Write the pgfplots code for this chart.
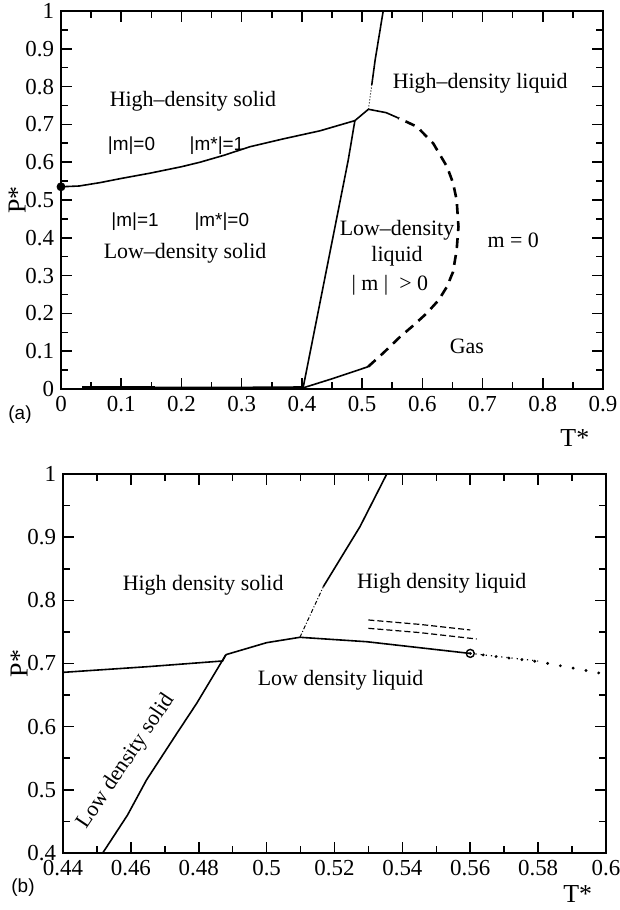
\documentclass[border=0pt]{standalone}
\usepackage{fontspec}
\setmainfont{Liberation Serif}
\newfontfamily\labfont{Liberation Sans}
\usepackage{pgfplots}
\pgfplotsset{compat=1.18}

\pgfplotsset{
  phase/.style={
    scale only axis,
    anchor=north west,
    axis line style={line width=1bp},
    tick align=inside,
    xtick pos=both, ytick pos=both,
    major tick length=5.5bp, minor tick length=3.5bp,
    every tick/.style={black, line width=0.8bp},
    minor x tick num=1, minor y tick num=1,
    tick label style={font=\rmfamily\fontsize{11.5}{12}\selectfont},
    /pgf/number format/assume math mode=true,
    xticklabel={\pgfmathprintnumber[assume math mode=true]{\tick}},
    yticklabel={\pgfmathprintnumber[assume math mode=true]{\tick}},
    label style={font=\fontsize{13}{14}\selectfont},
    ylabel style={at={(axis description cs:-0.081,0.5)}, anchor=center},
    clip=false,
  },
  line/.style={black, line width=0.8bp},
}

\begin{document}
\begin{tikzpicture}[x=1bp,y=1bp]
\useasboundingbox (0,0) rectangle (309.5,-455);

%% (a) full phase diagram
\begin{axis}[phase,
    at={(30.5bp,-5.5bp)}, width=271bp, height=189bp,
    xmin=0, xmax=0.9, ymin=0, ymax=1,
    xtick={0,0.1,...,0.9}, ytick={0,0.1,...,1},
    xlabel={T*}, ylabel={P*},
    xlabel style={at={(axis description cs:0.948,-0.13)}, anchor=center},
  ]
  % high/low density solid coexistence
  \addplot[line] coordinates {(0,0.535)(0.03,0.537)(0.065,0.546)(0.10,0.557)(0.148,0.571)
    (0.20,0.588)(0.231,0.600)(0.27,0.618)(0.314,0.641)(0.37,0.662)(0.43,0.683)(0.488,0.710)(0.5105,0.740)};
  % low density solid / liquid
  \addplot[line] coordinates {(0.402,0.003)(0.477,0.606)(0.488,0.710)};
  % sublimation line
  \addplot[black, line width=0.7bp] coordinates {(0.035,0.005)(0.156,0.005)};
  \addplot[black, line width=1.3bp] coordinates {(0.156,0.003)(0.30,0.003)(0.402,0.004)};
  % liquid - gas (solid part)
  \addplot[line] coordinates {(0.402,0.003)(0.452,0.028)(0.51,0.059)};
  % dashed (continuous) transition
  \addplot[black, line width=1.3bp, dash pattern=on 5bp off 3.5bp] coordinates {
    (0.51,0.059)(0.535,0.095)(0.563,0.138)(0.585,0.168)(0.607,0.200)(0.627,0.235)
    (0.641,0.271)(0.651,0.31)(0.657,0.368)(0.660,0.429)(0.657,0.500)(0.651,0.545)
    (0.641,0.588)(0.618,0.650)(0.591,0.694)(0.560,0.717)};
  % low/high density liquid
  \addplot[line] coordinates {(0.560,0.717)(0.54,0.731)(0.5105,0.740)};
  \addplot[black, line width=0.5bp, densely dotted] coordinates {(0.5105,0.740)(0.516,0.804)};
  \addplot[line] coordinates {(0.516,0.804)(0.5216,0.870)(0.535,1.0)};
  \addplot[only marks, mark=*, mark size=2bp, black] coordinates {(0,0.535)};

  \begin{scope}[font=\fontsize{11}{12}\selectfont]
  \node at (axis cs:0.219,0.760) {High–density solid};
  \node[font=\labfont\fontsize{9.5}{10}\selectfont] at (axis cs:0.117,0.645) {|m|=0};
  \node[font=\labfont\fontsize{9.5}{10}\selectfont] at (axis cs:0.259,0.645) {|m*|=1};
  \node[font=\labfont\fontsize{9.5}{10}\selectfont] at (axis cs:0.123,0.443) {|m|=1};
  \node[font=\labfont\fontsize{9.5}{10}\selectfont] at (axis cs:0.267,0.443) {|m*|=0};
  \node at (axis cs:0.206,0.359) {Low–density solid};
  \node at (axis cs:0.696,0.809) {High–density liquid};
  \node at (axis cs:0.558,0.421) {Low–density};
  \node at (axis cs:0.558,0.350) {liquid};
  \node at (axis cs:0.546,0.275) {| m |\ \ > 0};
  \node at (axis cs:0.751,0.394) {m = 0};
  \node at (axis cs:0.674,0.112) {Gas};
  \end{scope}
\end{axis}

%% (b) zoom around the liquid-liquid transition
\begin{axis}[phase,
    at={(31.5bp,-237bp)}, width=271.5bp, height=189.5bp,
    xmin=0.44, xmax=0.6, ymin=0.4, ymax=1,
    xtick={0.44,0.46,0.48,0.5,0.52,0.54,0.56,0.58,0.6},
    ytick={0.4,0.5,0.6,0.7,0.8,0.9,1},
    xlabel={T*}, ylabel={P*},
    xlabel style={at={(axis description cs:0.948,-0.108)}, anchor=center},
  ]
  \addplot[line] coordinates {(0.44,0.686)(0.465,0.695)(0.487,0.704)(0.488,0.714)};
  \addplot[line] coordinates {(0.4517,0.4)(0.459,0.460)(0.4646,0.5156)(0.4735,0.589)(0.4794,0.637)(0.488,0.714)};
  \addplot[line] coordinates {(0.488,0.714)(0.50,0.733)(0.5098,0.7415)};
  \addplot[black, line width=0.5bp, dash pattern=on 2bp off 1bp on 0.5bp off 1bp] coordinates {(0.5098,0.7415)(0.5167,0.8216)};
  \addplot[line] coordinates {(0.5167,0.8216)(0.5275,0.9166)(0.5354,1.0)};
  \addplot[line] coordinates {(0.5098,0.7415)(0.5295,0.7345)(0.5599,0.716)};
  \addplot[black, line width=1.6bp, dash pattern=on 0bp off 6.5bp, line cap=round] coordinates {(0.56,0.716)(0.58,0.703)(0.6,0.683)};
  \addplot[black, line width=0.6bp, dotted] coordinates {(0.56,0.716)(0.58,0.704)};
  \addplot[black, line width=0.6bp, dash pattern=on 3bp off 1.5bp] coordinates {(0.530,0.7689)(0.545,0.762)(0.560,0.7531)};
  \addplot[black, line width=0.6bp, dash pattern=on 3bp off 1.5bp] coordinates {(0.530,0.7557)(0.545,0.749)(0.5619,0.7388)};
  \addplot[only marks, mark=o, mark size=2bp, black, mark options={line width=0.7bp}] coordinates {(0.56,0.716)};

  \begin{scope}[font=\fontsize{11}{12}\selectfont]
  \node at (axis cs:0.4813,0.824) {High density solid};
  \node at (axis cs:0.5516,0.827) {High density liquid};
  \node at (axis cs:0.5218,0.674) {Low density liquid};
  \node[rotate=56] at (axis cs:0.4587,0.5445) {Low density solid};
  \end{scope}
\end{axis}

\node[font=\labfont\fontsize{9.5}{10}\selectfont] at (10,-207.5) {(a)};
\node[font=\labfont\fontsize{9.5}{10}\selectfont] at (11.5,-444) {(b)};
\end{tikzpicture}
\end{document}
